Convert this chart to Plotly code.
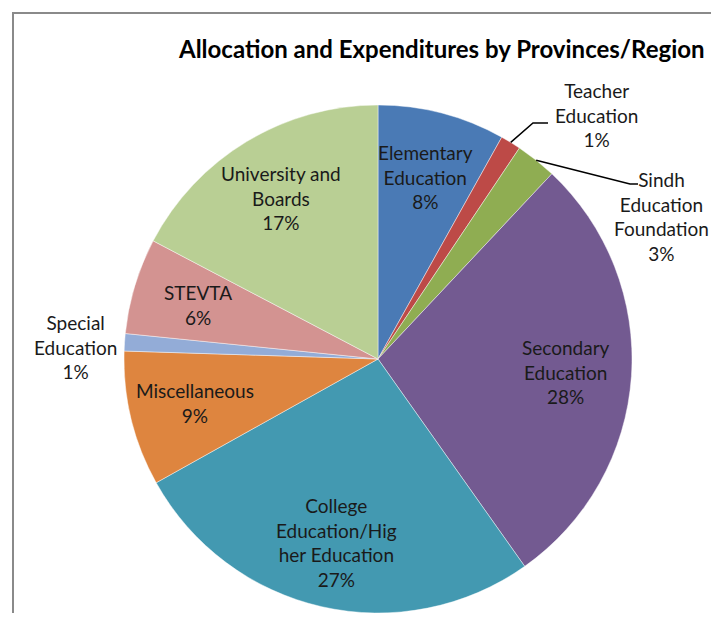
import math
import plotly.graph_objects as go

# window is 719x621; the html body adds an 8px margin around the figure
WIN_W, WIN_H = 719, 621
OFF = 8
W, H = WIN_W - 2 * OFF, WIN_H - 2 * OFF

categories = ["Elementary Education", "Teacher Education", "Sindh Education Foundation",
              "Secondary Education", "College Education/Higher Education", "Miscellaneous",
              "Special Education", "STEVTA", "University and Boards"]
label_lines = ["Elementary<br>Education", "Teacher<br>Education", "Sindh<br>Education<br>Foundation",
               "Secondary<br>Education", "College<br>Education/Hig<br>her Education", "Miscellaneous",
               "Special<br>Education", "STEVTA", "University and<br>Boards"]
values = [8.1, 1.3, 2.6, 28.2, 26.7, 8.6, 1.1, 6.1, 17.3]
colors = ["#4a7ab5", "#bd4a47", "#8fad52", "#735a91", "#4399b1", "#de853f",
          "#93acd7", "#d39391", "#b9cf94"]
title_text = "Allocation and Expenditures by Provinces/Region"

FONT = "Lato"


def px(x, y):
    """window pixel -> paper fraction"""
    return (x - OFF) / W, 1 - (y - OFF) / H


# pie geometry (window pixels)
cx, cy, r = 378, 359, 254
x0, y1 = px(cx - r, cy - r)
x1, y0 = px(cx + r, cy + r)
dom_x = [max(0, x0), min(1, x1)]
dom_y = [max(0, y0), min(1, y1)]

fig = go.Figure(go.Pie(
    labels=categories, values=values, sort=False, direction="clockwise", rotation=0,
    marker=dict(colors=colors, line=dict(color="rgba(255,255,255,0.55)", width=0.8)),
    textinfo="none", hoverinfo="label+percent", showlegend=False,
    domain=dict(x=dom_x, y=dom_y),
))

total = sum(values)
cum = 0
annotations = []
shapes = []
outside = {
    1: dict(pos=(596, 115), elbow=(533, 123), end=(548, 123)),
    2: dict(pos=(661, 216), elbow=(630, 184), end=(638, 184)),
    6: dict(pos=(75, 347), elbow=None, end=None),
}
for i, v in enumerate(values):
    mid = (cum + v / 2) / total * 2 * math.pi
    cum += v
    pct = round(v / total * 100)
    text = f"{label_lines[i]}<br>{pct}%"
    if i in outside:
        o = outside[i]
        x, y = px(*o["pos"])
        if o["elbow"]:
            sx, sy = cx + r * math.sin(mid), cy - r * math.cos(mid)
            p0 = px(sx, sy); p1 = px(*o["elbow"]); p2 = px(*o["end"])
            shapes.append(dict(type="path", xref="paper", yref="paper",
                               path=f"M {p0[0]} {p0[1]} L {p1[0]} {p1[1]} L {p2[0]} {p2[1]}",
                               line=dict(color="black", width=1.5)))
    else:
        lr = 0.74 * r
        x, y = px(cx + lr * math.sin(mid), cy - lr * math.cos(mid))
    annotations.append(dict(x=x, y=y, xref="paper", yref="paper", text=text, showarrow=False,
                            xanchor="center", yanchor="middle", align="center",
                            font=dict(family=FONT, size=19, color="#1a1a1a")))

tx, ty = px(176, 48)
annotations.append(dict(x=tx, y=ty, xref="paper", yref="paper", text=f"<b>{title_text}</b>",
                        showarrow=False, xanchor="left", yanchor="middle",
                        font=dict(family=FONT, size=24, color="black")))

bx0, by0 = px(13, 13)
bx1, by1 = px(760, 660)
shapes.append(dict(type="rect", xref="paper", yref="paper", x0=bx0, y0=by1, x1=bx1, y1=by0,
                   line=dict(color="#8a8a8a", width=2), layer="below"))

fig.update_layout(width=W, height=H, margin=dict(l=0, r=0, t=0, b=0),
                  paper_bgcolor="white", plot_bgcolor="white",
                  annotations=annotations, shapes=shapes)
fig.write_html("out.html")
